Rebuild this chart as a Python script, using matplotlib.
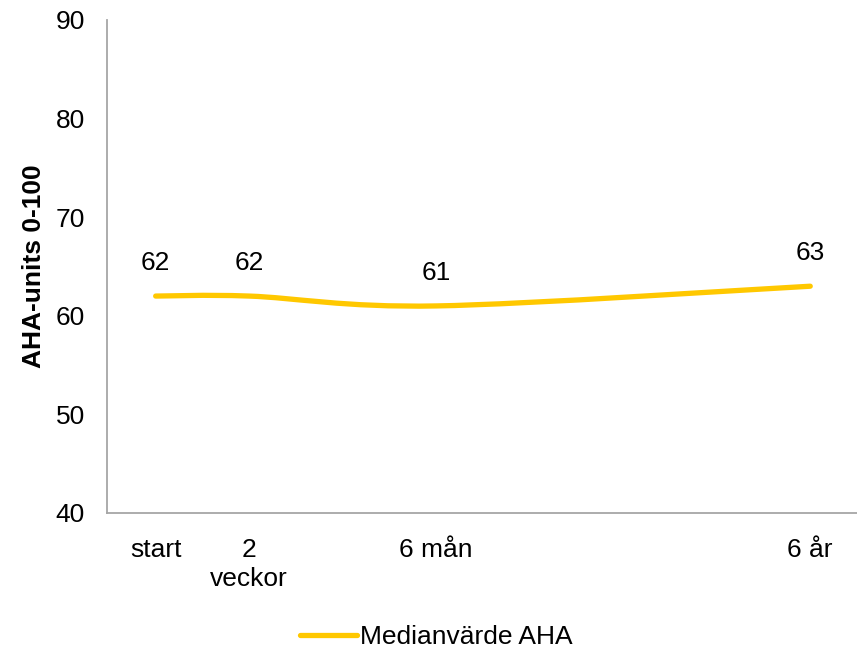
import numpy as np
import matplotlib
matplotlib.use("Agg")
import matplotlib.pyplot as plt
from matplotlib.path import Path
from matplotlib.patches import PathPatch
from matplotlib.lines import Line2D

plt.rcParams['font.family'] = ['Liberation Sans', 'DejaVu Sans']

# Measurement occasions, their position on the time axis, and median AHA
categories = ["start", "2\nveckor", "6 mån", "6 år"]
positions = [0, 1, 3, 7]
median_aha = [62, 62, 61, 63]
y_ticks = [40, 50, 60, 70, 80, 90]
series_name = "Medianvärde AHA"
y_label = "AHA-units 0-100"

line_color = "#FFC800"
axis_color = "#A6A6A6"
font_size = 19

fig = plt.figure(figsize=(8.57, 6.53), dpi=100)
ax = fig.add_axes([0.1249, 0.2144, 0.8751, 0.755])
ax.set_xlim(-0.52, 7.5)
ax.set_ylim(40, 90)


def smooth_path(xs, ys):
    """Cubic Bezier path through the points (Catmull-Rom style smoothing)."""
    pts = np.column_stack([xs, ys]).astype(float)
    n = len(pts)
    verts = [pts[0]]
    codes = [Path.MOVETO]
    for i in range(n - 1):
        p0 = pts[i - 1] if i > 0 else pts[i]
        p1 = pts[i]
        p2 = pts[i + 1]
        p3 = pts[i + 2] if i + 2 < n else pts[i + 1]
        c1 = p1 + (p2 - p0) / 6.0
        c2 = p2 - (p3 - p1) / 6.0
        verts += [c1, c2, p2]
        codes += [Path.CURVE4] * 3
    return Path(verts, codes)


# Smooth in display space so curvature looks right on screen
fig.canvas.draw()
disp = ax.transData.transform(np.column_stack([positions, median_aha]))
path = smooth_path(disp[:, 0], disp[:, 1])
patch = PathPatch(path, facecolor="none", edgecolor=line_color, lw=3.8,
                  capstyle="round", joinstyle="round", transform=None)
ax.add_artist(patch)

for x, v in zip(positions, median_aha):
    ax.annotate(f"{v}", (x, v), xytext=(0, 18.7), textcoords="offset points",
                ha="center", va="baseline", fontsize=font_size, color="black")

ax.set_yticks(y_ticks)
ax.set_xticks(positions)
ax.set_xticklabels(categories, fontsize=font_size, linespacing=1.25)
ax.tick_params(axis="y", labelsize=font_size, length=0, pad=16)
ax.tick_params(axis="x", length=0, pad=18)
for lbl in ax.get_xticklabels():
    lbl.set_verticalalignment("top")

ax.set_ylabel(y_label, fontsize=font_size, fontweight="bold", labelpad=7)

for s in ["top", "right"]:
    ax.spines[s].set_visible(False)
for s in ["left", "bottom"]:
    ax.spines[s].set_color(axis_color)
    ax.spines[s].set_linewidth(1.3)

handle = Line2D([], [], color=line_color, lw=3.8, solid_capstyle="round")
fig.legend([handle], [series_name], loc="center", bbox_to_anchor=(0.509, 0.0245),
           frameon=False, fontsize=font_size, handlelength=2.15, handletextpad=0.11,
           borderpad=0, borderaxespad=0)

fig.savefig("out.png", dpi=100)
